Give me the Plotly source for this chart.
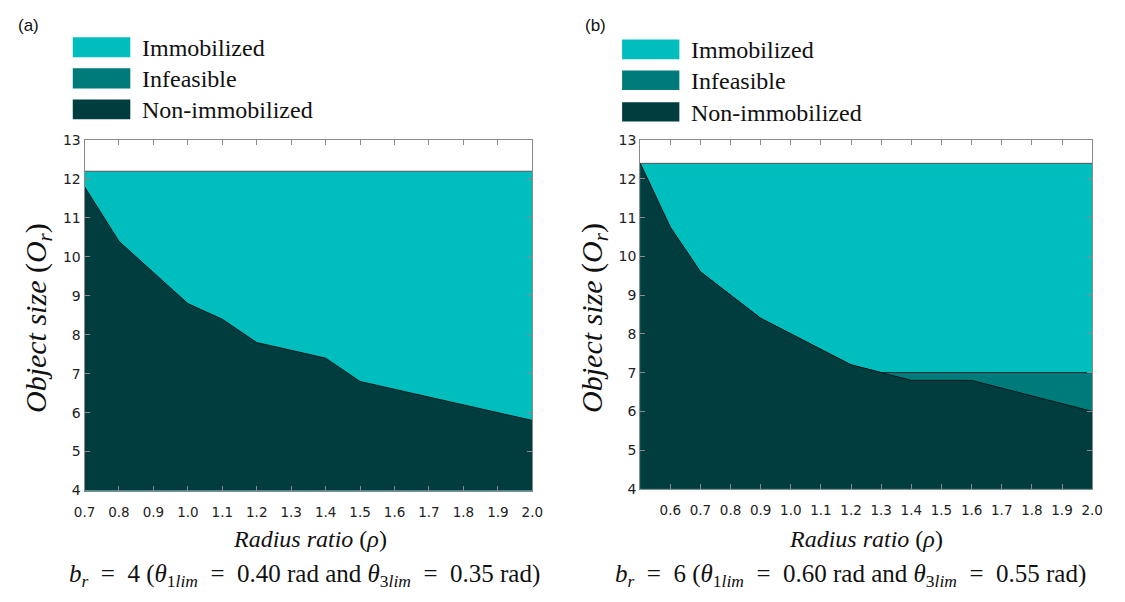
import plotly.graph_objects as go

# ---------------- data ----------------
rho_a = [0.7, 0.8, 0.9, 1.0, 1.1, 1.2, 1.3, 1.4, 1.5, 1.6, 1.7, 1.8, 1.9, 2.0]
nonimm_a = [11.8, 10.4, 9.6, 8.8, 8.4, 7.8, 7.6, 7.4, 6.8, 6.6, 6.4, 6.2, 6.0, 5.8]
top_a = [12.2] * 14

rho_b = [0.5, 0.6, 0.7, 0.8, 0.9, 1.0, 1.1, 1.2, 1.3, 1.4, 1.5, 1.6, 1.7, 1.8, 1.9, 2.0]
nonimm_b = [12.4, 10.75, 9.6, 9.0, 8.4, 8.0, 7.6, 7.2, 7.0, 6.8, 6.8, 6.8, 6.6, 6.4, 6.2, 6.0]
infeas_b = [12.4, 10.75, 9.6, 9.0, 8.4, 8.0, 7.6, 7.2, 7.0, 7.0, 7.0, 7.0, 7.0, 7.0, 7.0, 7.0]
top_b = [12.4] * 16

ticks_a = [0.7, 0.8, 0.9, 1.0, 1.1, 1.2, 1.3, 1.4, 1.5, 1.6, 1.7, 1.8, 1.9, 2.0]
ticks_b = [0.5, 0.6, 0.7, 0.8, 0.9, 1.0, 1.1, 1.2, 1.3, 1.4, 1.5, 1.6, 1.7, 1.8, 1.9, 2.0]
ticktext_a = ["0.7", "0.8", "0.9", "1.0", "1.1", "1.2", "1.3", "1.4", "1.5", "1.6", "1.7", "1.8", "1.9", "2.0"]
ticktext_b = ["", "0.6", "0.7", "0.8", "0.9", "1.0", "1.1", "1.2", "1.3", "1.4", "1.5", "1.6", "1.7", "1.8", "1.9", "2.0"]

legend_labels = ["Immobilized", "Infeasible", "Non-immobilized"]

C_IMM = "#00BDBE"
C_INF = "#007B7B"
C_NON = "#013D3E"
legend_colors = [C_IMM, C_INF, C_NON]

W, H = 1125, 602

fig = go.Figure()

# panel (a)
fig.add_trace(go.Scatter(x=rho_a, y=top_a, fill="tozeroy", fillcolor=C_IMM, mode="lines",
                         line=dict(color="#555555", width=1), xaxis="x", yaxis="y", showlegend=False))
fig.add_trace(go.Scatter(x=rho_a, y=nonimm_a, fill="tozeroy", fillcolor=C_NON, mode="lines",
                         line=dict(color="#0a1a1a", width=1), xaxis="x", yaxis="y", showlegend=False))
# panel (b)
fig.add_trace(go.Scatter(x=rho_b, y=top_b, fill="tozeroy", fillcolor=C_IMM, mode="lines",
                         line=dict(color="#555555", width=1), xaxis="x2", yaxis="y2", showlegend=False))
fig.add_trace(go.Scatter(x=rho_b, y=infeas_b, fill="tozeroy", fillcolor=C_INF, mode="lines",
                         line=dict(color="#0a2a2a", width=1), xaxis="x2", yaxis="y2", showlegend=False))
fig.add_trace(go.Scatter(x=rho_b, y=nonimm_b, fill="tozeroy", fillcolor=C_NON, mode="lines",
                         line=dict(color="#0a1a1a", width=1), xaxis="x2", yaxis="y2", showlegend=False))


def px_x(v):
    return v / W


def px_y(v):
    return 1 - v / H


tickfont_x = dict(family="DejaVu Sans", size=13.5, color="#222222")
tickfont_y = dict(family="DejaVu Sans", size=14, color="#222222")
common_x = dict(ticks="inside", ticklen=5, tickcolor="#8a8a8a", showline=True, linecolor="#8a8a8a",
                linewidth=1, mirror="ticks", showgrid=False, zeroline=False, tickfont=tickfont_x,
                ticklabelstandoff=9)
common_y = dict(ticks="inside", ticklen=5, tickcolor="#8a8a8a", showline=True, linecolor="#8a8a8a",
                linewidth=1, mirror="ticks", showgrid=False, zeroline=False, tickfont=tickfont_y,
                range=[4, 13], dtick=1, tick0=4)

ax_a = dict(l=75, r=531.7, t=135.7, b=495.7)
ax_b = dict(l=641.7, r=1102.7, t=135.7, b=494.0)

fig.update_layout(
    width=W, height=H, margin=dict(l=0, r=0, t=0, b=0),
    paper_bgcolor="white", plot_bgcolor="white", showlegend=False,
    xaxis=dict(domain=[px_x(ax_a["l"]), px_x(ax_a["r"])], range=[0.7, 2.0],
               tickvals=ticks_a, ticktext=ticktext_a, anchor="y", **common_x),
    yaxis=dict(domain=[px_y(ax_a["b"]), px_y(ax_a["t"])], anchor="x", **common_y),
    xaxis2=dict(domain=[px_x(ax_b["l"]), px_x(ax_b["r"])], range=[0.5, 2.0],
                tickvals=ticks_b, ticktext=ticktext_b, anchor="y2", **common_x),
    yaxis2=dict(domain=[px_y(ax_b["b"]), px_y(ax_b["t"])], anchor="x2", **common_y),
)

annotations = []
shapes = []

serif = "Liberation Serif"

# panel labels
for txt, x in [("(a)", 5), ("(b)", 583)]:
    annotations.append(dict(text=txt, x=px_x(x), y=px_y(18), xref="paper", yref="paper",
                            xanchor="left", yanchor="middle", showarrow=False,
                            font=dict(family="Liberation Sans", size=17, color="#111111")))

# legends
for (sx0, sx1, tx, rows) in [
    (63, 121.7, 132, [(30, 50.7), (62, 82.7), (94, 114.3)]),
    (623.3, 681.7, 692, [(32.3, 52.7), (64.3, 84.3), (96.7, 116.7)]),
]:
    for (y0, y1), lab, col in zip(rows, legend_labels, legend_colors):
        shapes.append(dict(type="rect", xref="paper", yref="paper",
                           x0=px_x(sx0), x1=px_x(sx1), y0=px_y(y1), y1=px_y(y0),
                           fillcolor=col, line=dict(width=0)))
        annotations.append(dict(text=lab, x=px_x(tx), y=px_y((y0 + y1) / 2 + 1), xref="paper", yref="paper",
                                xanchor="left", yanchor="middle", showarrow=False,
                                font=dict(family=serif, size=24, color="#111111")))

# axis titles and captions
EQ = "&nbsp;&nbsp;=&nbsp;&nbsp;"
ytitle = "<i>Object size</i> (<i>O<sub>r</sub></i>)"
xtitle = "<i>Radius ratio</i> (<i>ρ</i>)"
cap_a = ("<i>b<sub>r</sub></i>" + EQ + "4 (<i>θ</i><sub>1<i>lim</i></sub>" + EQ +
         "0.40 rad and <i>θ</i><sub>3<i>lim</i></sub>" + EQ + "0.35 rad)")
cap_b = ("<i>b<sub>r</sub></i>" + EQ + "6 (<i>θ</i><sub>1<i>lim</i></sub>" + EQ +
         "0.60 rad and <i>θ</i><sub>3<i>lim</i></sub>" + EQ + "0.55 rad)")

for ytx, xc, capx, cap in [(27, 305, 299, cap_a),
                           (594, 872, 856, cap_b)]:
    annotations.append(dict(text=ytitle, x=px_x(ytx), y=px_y(318), xref="paper", yref="paper",
                            xanchor="center", yanchor="middle", textangle=-90, showarrow=False,
                            font=dict(family=serif, size=30, color="#111111")))
    annotations.append(dict(text=xtitle, x=px_x(xc), y=px_y(545), xref="paper", yref="paper",
                            xanchor="center", yanchor="middle", showarrow=False,
                            font=dict(family=serif, size=24, color="#111111")))
    annotations.append(dict(text=cap, x=px_x(capx), y=px_y(583), xref="paper", yref="paper",
                            xanchor="center", yanchor="middle", showarrow=False,
                            font=dict(family=serif, size=25, color="#111111")))

fig.update_layout(annotations=annotations, shapes=shapes)

fig.write_html("out.html")
